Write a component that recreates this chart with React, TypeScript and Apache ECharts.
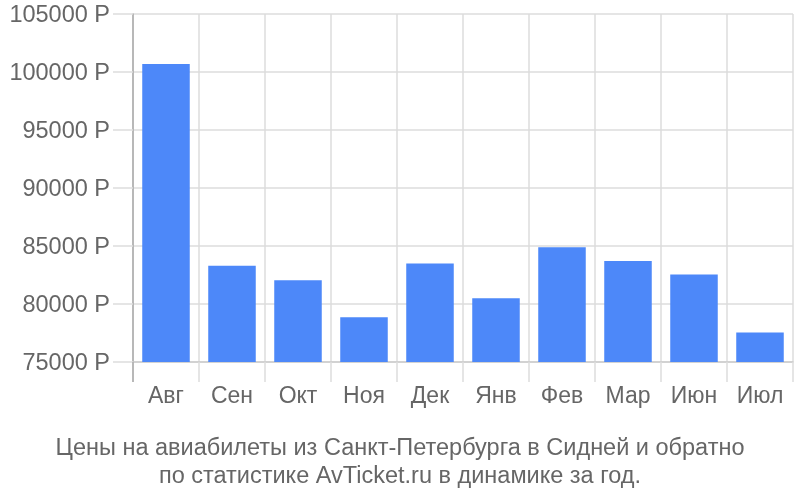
import React, { useEffect, useRef } from "react";
import * as echarts from "echarts";

const categories = ["Авг", "Сен", "Окт", "Ноя", "Дек", "Янв", "Фев", "Мар", "Июн", "Июл"];
const prices = [100700, 83300, 82050, 78850, 83500, 80500, 84900, 83700, 82550, 77550];
const yTicks = { min: 75000, max: 105000, interval: 5000 };
const subtitle = "Цены на авиабилеты из Санкт-Петербурга в Сидней и обратно\nпо статистике AvTicket.ru в динамике за год.";

export default function App() {
  const ref = useRef<HTMLDivElement>(null);
  useEffect(() => {
    if (!ref.current) return;
    const chart = echarts.init(ref.current, null, { renderer: "svg" });
    const font = "'Liberation Sans', Arial, sans-serif";
    chart.setOption({
      animation: false,
      title: {
        text: subtitle,
        left: "center",
        top: 428,
        textStyle: {
          fontFamily: font,
          fontSize: 23.5,
          fontWeight: "normal",
          color: "#666",
          lineHeight: 28,
        },
      },
      grid: { left: 133, right: 7, top: 14, bottom: 138, containLabel: false },
      xAxis: {
        type: "category",
        data: categories,
        axisLine: { show: true, lineStyle: { color: "#ccc", width: 1.5 } },
        axisTick: { show: true, length: 20, lineStyle: { color: "#ddd", width: 1.5 } },
        splitLine: { show: true, lineStyle: { color: "#ddd", width: 1.5 } },
        axisLabel: { fontFamily: font, fontSize: 23, color: "#666", margin: 21 },
      },
      yAxis: {
        type: "value",
        min: yTicks.min,
        max: yTicks.max,
        interval: yTicks.interval,
        axisLine: { show: true, lineStyle: { color: "#aaa", width: 1.5 } },
        axisTick: { show: true, length: 20, lineStyle: { color: "#ddd", width: 1.5 } },
        splitLine: { show: true, lineStyle: { color: "#ddd", width: 1.5 } },
        axisLabel: {
          fontFamily: font,
          fontSize: 23.5,
          color: "#666",
          margin: 23,
          formatter: (v: number) => `${v} Р`,
        },
      },
      series: [
        {
          type: "bar",
          data: prices,
          barWidth: "72%",
          itemStyle: { color: "#4d88f9" },
          z: 3,
        },
      ],
      graphic: [
        {
          type: "line",
          shape: { x1: 133, y1: 362, x2: 133, y2: 382 },
          style: { stroke: "#aaa", lineWidth: 1.5 },
          z: 10,
        },
      ],
    });
    return () => chart.dispose();
  }, []);
  return <div ref={ref} style={{ position: "fixed", left: 0, top: 0, width: 800, height: 500 }} />;
}
